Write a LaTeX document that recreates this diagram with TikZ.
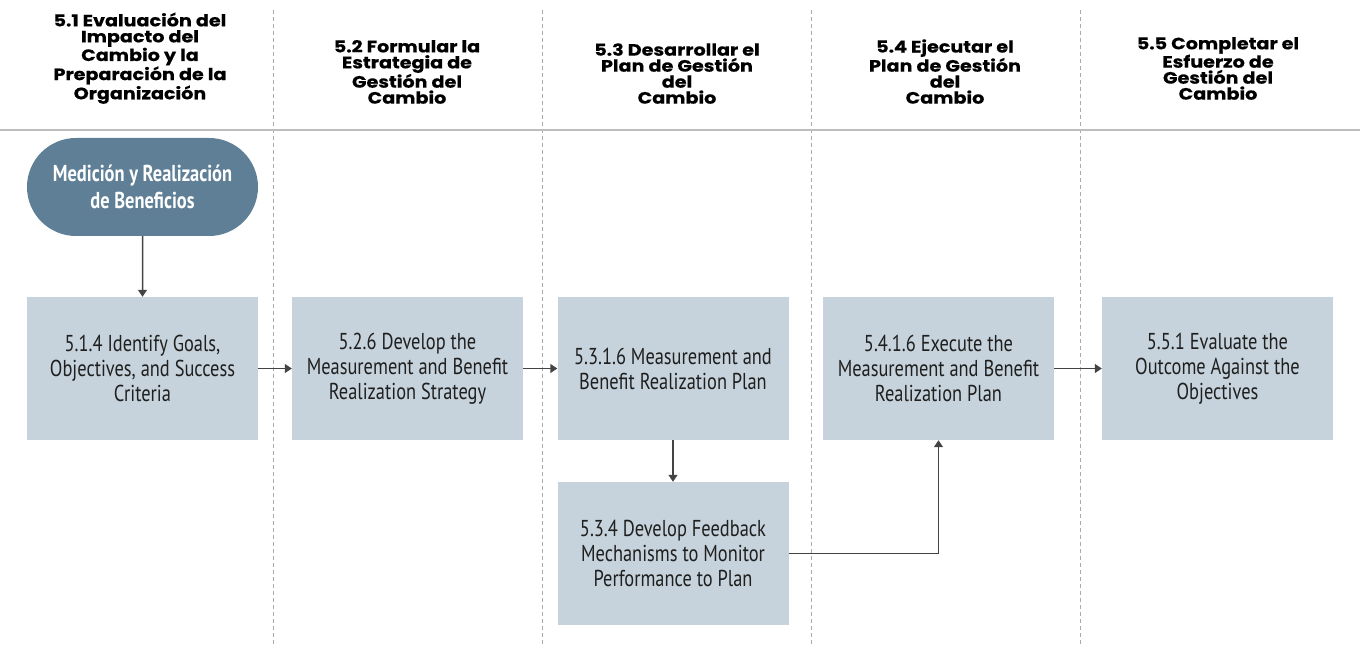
\documentclass[tikz,border=0pt]{standalone}
\usepackage{fontspec}
\setmainfont{PT Sans}[FakeStretch=0.8]
\newfontfamily\headfont{Poppins}[FakeStretch=1.16, BoldFeatures={FakeBold=0.4}]
\usetikzlibrary{arrows.meta,shapes.misc}

\definecolor{boxfill}{HTML}{C6D3DC}
\definecolor{ovalfill}{HTML}{5E7F96}
\definecolor{linegray}{HTML}{444444}
\definecolor{rulegray}{HTML}{BDBDBD}

\begin{document}
\begin{tikzpicture}[x=1pt,y=-1pt,
    task/.style={rectangle, fill=boxfill, minimum width=231pt, minimum height=143pt,
      inner sep=0pt, align=center, text=black!88, font=\fontsize{23}{25}\selectfont},
    start/.style={rounded rectangle, fill=ovalfill, minimum width=231pt, minimum height=98pt,
      inner sep=0pt, align=center, text=white, font=\bfseries\fontsize{23}{27}\selectfont},
    phase/.style={anchor=south, align=center, inner sep=0pt,
      font=\headfont\bfseries\fontsize{16.5}{16}\selectfont},
    lane/.style={rulegray!90!black, dashed, dash pattern=on 4pt off 3pt, line width=0.8pt},
    flow/.style={-{Triangle[length=7pt,width=9pt]}, linegray, line width=1.5pt}]
  \useasboundingbox (0,0) rectangle (1360,647);

  % swimlanes
  \foreach \x in {273,542,811,1080}
    \draw[lane] (\x,10) -- (\x,647);
  \draw[rulegray, line width=2pt] (0,130) -- (1360,130);

  % phase headers
  \node[phase] (P1) at (140,104) {5.1 Evaluación del\\Impacto del\\Cambio y la\\Preparación de la\\Organización};
  \node[phase] (P2) at (407,104) {5.2 Formular la\\Estrategia de\\Gestión del\\Cambio};
  \node[phase] (P3) at (677,104) {5.3 Desarrollar el\\Plan de Gestión\\del\\Cambio};
  \node[phase] (P4) at (945,104) {5.4 Ejecutar el\\Plan de Gestión\\del\\Cambio};
  \node[phase] (P5) at (1218,100) {5.5 Completar el\\Esfuerzo de\\Gestión del\\Cambio};

  % tasks
  \node[start] (M)  at (142.5,187)   {Medición y Realización\\de Beneficios};
  \node[task]  (T1) at (142.5,368.5) {5.1.4 Identify Goals,\\Objectives, and Success\\Criteria};
  \node[task]  (T2) at (407.5,368.5) {5.2.6 Develop the\\Measurement and Benefit\\Realization Strategy};
  \node[task]  (T3) at (673,368.5)   {5.3.1.6 Measurement and\\Benefit Realization Plan};
  \node[task]  (T4) at (938.5,368.5) {5.4.1.6 Execute the\\Measurement and Benefit\\Realization Plan};
  \node[task]  (T5) at (1217.5,368.5) {5.5.1 Evaluate the\\Outcome Against the\\Objectives};
  \node[task]  (T6) at (673,553.5)   {5.3.4 Develop Feedback\\Mechanisms to Monitor\\Performance to Plan};

  \path[flow] (M)  edge (T1)
              (T1) edge (T2)
              (T2) edge (T3)
              (T3) edge (T6)
              (T4) edge (T5);
  \draw[flow] (T6.east) -| (T4.south);
\end{tikzpicture}
\end{document}
